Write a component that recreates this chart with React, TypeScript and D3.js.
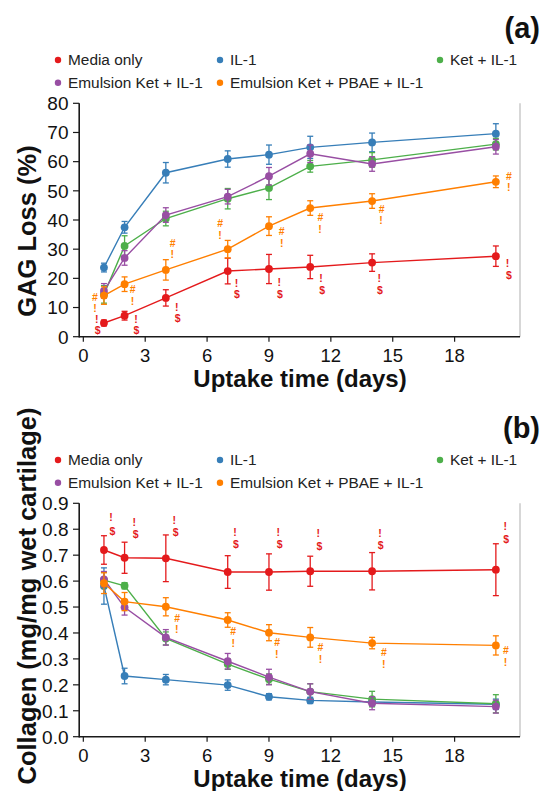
import React from "react";
import * as d3 from "d3";

// ---------- data ----------
const days = [1, 2, 4, 7, 9, 11, 14, 20];
const seriesNames = ["Media only", "IL-1", "Ket + IL-1", "Emulsion Ket + IL-1", "Emulsion Ket + PBAE + IL-1"];
const seriesColors = ["#e41a1c", "#377eb8", "#4daf4a", "#984ea3", "#ff7f00"];
const xTicks = [0, 3, 6, 9, 12, 15, 18];

// (a) GAG loss (%)
const gagMedia = [4.7, 7.2, 13.3, 22.5, 23.2, 23.9, 25.4, 27.6];
const gagMediaErr = [1.0, 1.5, 2.8, 4.4, 5.0, 4.0, 3.0, 3.5];
const gagIL1 = [23.7, 37.5, 56.2, 60.9, 62.4, 64.9, 66.6, 69.6];
const gagIL1Err = [1.5, 2.0, 3.5, 2.8, 3.3, 3.8, 3.2, 3.4];
const gagKet = [14.5, 31.1, 40.5, 47.3, 51.0, 58.4, 60.6, 66.0];
const gagKetErr = [3.0, 3.5, 2.5, 3.5, 4.0, 2.0, 2.5, 2.0];
const gagEmul = [15.7, 27.0, 41.7, 48.0, 55.0, 62.7, 59.2, 65.1];
const gagEmulErr = [2.5, 2.5, 2.5, 2.5, 3.0, 3.0, 2.5, 2.5];
const gagPbae = [14.1, 18.0, 22.9, 30.0, 37.9, 44.1, 46.5, 53.1];
const gagPbaeErr = [3.0, 2.5, 3.5, 3.0, 3.2, 2.5, 2.5, 2.0];
const gagTicks = [0, 10, 20, 30, 40, 50, 60, 70, 80];

// significance symbols (day, value, symbol)
const gagPbaeMarks: [number, number, string][] = [
  [0.56, 13.6, "#"], [0.56, 9.6, "!"], [2.39, 16.4, "#"], [2.39, 12.3, "!"],
  [4.33, 32.2, "#"], [4.31, 28.3, "!"], [6.63, 38.9, "#"], [6.63, 34.7, "!"],
  [9.62, 36.0, "#"], [9.62, 32.0, "!"], [11.5, 40.8, "#"], [11.47, 37.0, "!"],
  [14.46, 43.8, "#"], [14.43, 40.0, "!"], [20.63, 55.1, "#"], [20.62, 51.1, "!"],
];
const gagMediaMarks: [number, number, string][] = [
  [0.65, 6.1, "!"], [0.69, 2.1, "$"], [2.55, 6.1, "!"], [2.58, 2.1, "$"],
  [4.53, 10.2, "!"], [4.57, 6.3, "$"], [7.43, 18.4, "!"], [7.45, 14.4, "$"],
  [9.5, 18.7, "!"], [9.53, 14.7, "$"], [11.52, 20.2, "!"], [11.58, 16.0, "$"],
  [14.35, 20.0, "!"], [14.38, 16.0, "$"], [20.57, 25.3, "!"], [20.63, 21.1, "$"],
];

// (b) Collagen (mg/mg wet cartilage)
const colMedia = [0.72, 0.69, 0.688, 0.635, 0.635, 0.638, 0.638, 0.644];
const colMediaErr = [0.055, 0.06, 0.09, 0.063, 0.07, 0.058, 0.072, 0.1];
const colIL1 = [0.581, 0.234, 0.22, 0.199, 0.154, 0.14, 0.134, 0.125];
const colIL1Err = [0.07, 0.03, 0.02, 0.02, 0.012, 0.012, 0.015, 0.02];
const colKet = [0.604, 0.582, 0.379, 0.28, 0.222, 0.174, 0.145, 0.127];
const colKetErr = [0.03, 0.012, 0.025, 0.02, 0.02, 0.03, 0.03, 0.035];
const colEmul = [0.607, 0.499, 0.383, 0.291, 0.23, 0.174, 0.129, 0.116];
const colEmulErr = [0.03, 0.03, 0.03, 0.03, 0.03, 0.03, 0.025, 0.025];
const colPbae = [0.592, 0.521, 0.501, 0.45, 0.401, 0.383, 0.361, 0.352];
const colPbaeErr = [0.04, 0.035, 0.035, 0.028, 0.031, 0.038, 0.022, 0.037];
const colTicks = [0, 0.1, 0.2, 0.3, 0.4, 0.5, 0.6, 0.7, 0.8, 0.9];

const colMediaMarks: [number, number, string][] = [
  [1.34, 0.846, "!"], [1.41, 0.794, "$"], [2.47, 0.828, "!"], [2.54, 0.779, "$"],
  [4.41, 0.836, "!"], [4.48, 0.787, "$"], [7.35, 0.79, "!"], [7.4, 0.741, "$"],
  [9.45, 0.79, "!"], [9.52, 0.741, "$"], [11.39, 0.783, "!"], [11.44, 0.734, "$"],
  [14.38, 0.786, "!"], [14.41, 0.737, "$"], [20.45, 0.81, "!"], [20.5, 0.761, "$"],
];
const colPbaeMarks: [number, number, string][] = [
  [4.55, 0.456, "#"], [4.53, 0.414, "!"], [7.27, 0.405, "#"], [7.27, 0.362, "!"],
  [9.4, 0.364, "#"], [9.38, 0.319, "!"], [11.5, 0.345, "#"], [11.5, 0.3, "!"],
  [14.57, 0.325, "#"], [14.57, 0.281, "!"], [20.49, 0.333, "#"], [20.47, 0.289, "!"],
];

// ---------- layout ----------
const W = 543;
const H = 791;
const FONT = "'Liberation Sans', Arial, Helvetica, sans-serif";
const AXIS = "#1a1a1a";

type PanelProps = {
  top: number;
  tag: string;
  yLabel: string;
  yLabelCenter: number;
  yMax: number;
  yTicks: number[];
  yFmt: (v: number) => string;
  values: number[][];
  errors: number[][];
  redMarks: [number, number, string][];
  orangeMarks: [number, number, string][];
};

function Panel(p: PanelProps) {
  const x = d3.scaleLinear().domain([-0.2, 21.17]).range([79.2, 520]);
  const y = d3.scaleLinear().domain([0, p.yMax]).range([p.top + 336.7, p.top + 103.3]);
  const line = d3
    .line<number>()
    .x((_, i) => x(days[i]))
    .y((v) => y(v));
  const y0 = y(0);
  const yTop = y(p.yMax);
  const legendRows = [
    [0, 1, 2],
    [3, 4],
  ];
  const legendCols = [58, 220, 440];
  return (
    <g fontFamily={FONT}>
      {/* panel tag */}
      <text x={540} y={p.top + 38} textAnchor="end" fontSize={29} fontWeight="bold" fill="#111">
        {p.tag}
      </text>
      {/* legend */}
      {legendRows.map((row, r) =>
        row.map((si, c) => (
          <g key={`lg${si}`} transform={`translate(${legendCols[c]},${p.top + 60 + r * 22.7})`}>
            <circle r={3.2} fill={seriesColors[si]} />
            <text x={10} dy="0.35em" fontSize={15.4} fill="#222">
              {seriesNames[si]}
            </text>
          </g>
        ))
      )}
      {/* right frame */}
      <line x1={520} x2={520} y1={yTop} y2={y0} stroke="#bdbdbd" strokeWidth={1.2} />
      {/* axes */}
      <line x1={79.2} x2={520} y1={y0} y2={y0} stroke={AXIS} strokeWidth={1.6} />
      <line x1={79.2} x2={79.2} y1={yTop} y2={y0 + 0.8} stroke={AXIS} strokeWidth={1.6} />
      {xTicks.map((t) => (
        <g key={`xt${t}`}>
          <line x1={x(t)} x2={x(t)} y1={y0} y2={y0 + 5} stroke={AXIS} strokeWidth={1.2} />
          <text x={x(t)} y={y0 + 25} textAnchor="middle" fontSize={18.5} fill="#111">
            {t}
          </text>
        </g>
      ))}
      {p.yTicks.map((t) => (
        <g key={`yt${t}`}>
          <line x1={73} x2={79.2} y1={y(t)} y2={y(t)} stroke={AXIS} strokeWidth={1.2} />
          <text x={68.5} y={y(t)} dy="0.36em" textAnchor="end" fontSize={19} fill="#111">
            {p.yFmt(t)}
          </text>
        </g>
      ))}
      <text x={300} y={p.top + 387} textAnchor="middle" fontSize={24} fontWeight="bold" fill="#111">
        Uptake time (days)
      </text>
      <text
        transform={`translate(36,${p.yLabelCenter}) rotate(-90)`}
        textAnchor="middle"
        fontSize={25.5}
        fontWeight="bold"
        fill="#111"
      >
        {p.yLabel}
      </text>
      {/* series */}
      {p.values.map((vals, si) => (
        <g key={`s${si}`} stroke={seriesColors[si]} fill={seriesColors[si]}>
          {vals.map((v, i) => {
            const e = p.errors[si][i];
            const cx = x(days[i]);
            return (
              <g key={i} strokeWidth={1.3}>
                <line x1={cx} x2={cx} y1={y(v - e)} y2={y(v + e)} />
                <line x1={cx - 3} x2={cx + 3} y1={y(v - e)} y2={y(v - e)} />
                <line x1={cx - 3} x2={cx + 3} y1={y(v + e)} y2={y(v + e)} />
              </g>
            );
          })}
          <path d={line(vals) || ""} fill="none" strokeWidth={1.4} />
          {vals.map((v, i) => (
            <circle key={`c${i}`} cx={x(days[i])} cy={y(v)} r={3.9} stroke="none" />
          ))}
        </g>
      ))}
      {/* significance symbols */}
      {p.orangeMarks.map(([d, v, s], i) => (
        <text key={`om${i}`} x={x(d)} y={y(v)} dy="0.36em" textAnchor="middle" fontSize={10.5} fontWeight="bold" fill={seriesColors[4]}>
          {s}
        </text>
      ))}
      {p.redMarks.map(([d, v, s], i) => (
        <text key={`rm${i}`} x={x(d)} y={y(v)} dy="0.36em" textAnchor="middle" fontSize={10.5} fontWeight="bold" fill={seriesColors[0]}>
          {s}
        </text>
      ))}
    </g>
  );
}

export default function App() {
  return (
    <svg
      width={W}
      height={H}
      viewBox={`0 0 ${W} ${H}`}
      style={{ position: "absolute", left: 0, top: 0, background: "#fff" }}
    >
      <rect width={W} height={H} fill="#fff" />
      <Panel
        top={0}
        tag="(a)"
        yLabel="GAG Loss (%)"
        yLabelCenter={231}
        yMax={80}
        yTicks={gagTicks}
        yFmt={(v) => String(v)}
        values={[gagMedia, gagIL1, gagKet, gagEmul, gagPbae]}
        errors={[gagMediaErr, gagIL1Err, gagKetErr, gagEmulErr, gagPbaeErr]}
        redMarks={gagMediaMarks}
        orangeMarks={gagPbaeMarks}
      />
      <Panel
        top={400}
        tag="(b)"
        yLabel="Collagen (mg/mg wet cartilage)"
        yLabelCenter={596}
        yMax={0.9}
        yTicks={colTicks}
        yFmt={(v) => d3.format(".1f")(v)}
        values={[colMedia, colIL1, colKet, colEmul, colPbae]}
        errors={[colMediaErr, colIL1Err, colKetErr, colEmulErr, colPbaeErr]}
        redMarks={colMediaMarks}
        orangeMarks={colPbaeMarks}
      />
    </svg>
  );
}
